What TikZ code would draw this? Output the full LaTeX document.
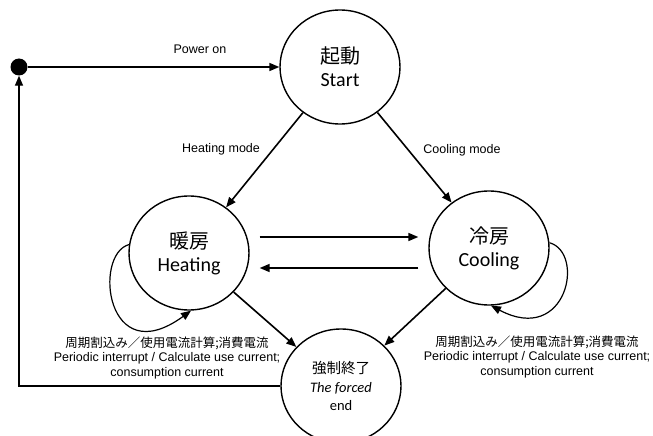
\documentclass[tikz,border=0pt]{standalone}
\usepackage{fontspec}
\setmainfont{Carlito}
\newfontfamily\jpfont{Noto Sans CJK JP}
\newfontfamily\lblfont{Liberation Sans}
\usetikzlibrary{arrows.meta,shapes.geometric}

\begin{document}
\begin{tikzpicture}[
        x=1pt, y=-1pt,
        state/.style={draw, ellipse, line width=1.4pt, minimum width=120pt, minimum height=114pt, inner sep=0pt, align=center, font=\fontsize{20}{23}\selectfont},
        endstate/.style={state, font=\fontsize{14.5}{18.5}\selectfont},
        dotnode/.style={circle, fill=black, minimum size=17pt, inner sep=0pt},
        arr/.style={-{Triangle[length=10pt, width=8pt]}, line width=1.6pt},
        lbl/.style={font=\lblfont\fontsize{12.5}{14.5}\selectfont, align=center, inner sep=0pt}
    ]
    \useasboundingbox (0,0) rectangle (653,436);

    % Nodes - states
    \node[dotnode] (init) at (19,67) {};
    \node[state] (start) at (340,67) {{\jpfont 起動}\\Start};
    \node[state] (heat) at (189,253) {{\jpfont 暖房}\\Heating};
    \node[state] (cool) at (489,248) {{\jpfont 冷房}\\Cooling};
    \node[endstate] (stop) at (341,386) {{\jpfont 強制終了}\\\textit{The forced}\\end};

    % Labels
    \node[lbl] (lpower) at (200,49) {Power on};
    \node[lbl] (lheat) at (221,149) {Heating mode};
    \node[lbl] (lcool) at (462,150) {Cooling mode};
    \node[lbl] (lloopa) at (167,358) {{\jpfont 周期割込み／使用電流計算;消費電流}\\Periodic interrupt / Calculate use current;\\consumption current};
    \node[lbl] (lloopb) at (537,357) {{\jpfont 周期割込み／使用電流計算;消費電流}\\Periodic interrupt / Calculate use current;\\consumption current};

    % Arrows
    \draw[arr] (init) -- (start);
    \draw[arr] (start) -- (heat);
    \draw[arr] (start) -- (cool);
    \draw[arr, shorten <=10pt, shorten >=10pt] ([yshift=16pt]heat.east) -- ([yshift=16pt]heat.east -| cool.west);
    \draw[arr, shorten <=10pt, shorten >=10pt] ([yshift=-15pt]heat.east -| cool.west) -- ([yshift=-15pt]heat.east);
    \draw[arr] (heat) -- (stop);
    \draw[arr] (cool) -- (stop);
    \draw[arr, line width=1.4pt] (stop) -| (init);

    % Self loops
    \draw[arr, line width=1.2pt] (heat.172) .. controls +(-36,10) and +(-85,62) .. (heat.-88);
    \draw[arr, line width=1.2pt] (cool.5) .. controls +(36,10) and +(76,40) .. (cool.-88);

\end{tikzpicture}
\end{document}
